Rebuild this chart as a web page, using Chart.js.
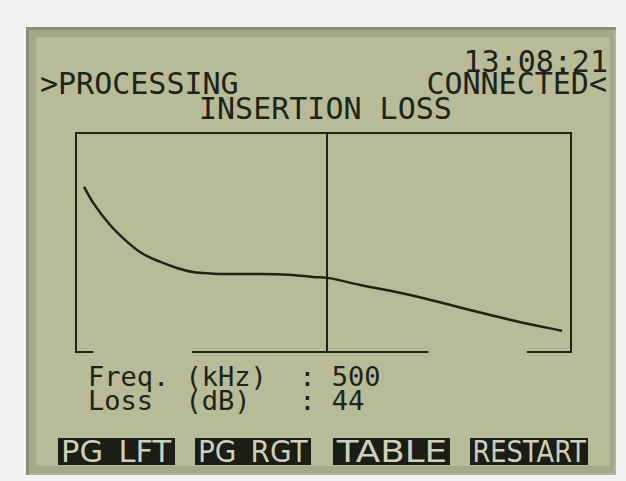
<!DOCTYPE html>
<html>
<head>
<meta charset="utf-8">
<script src="https://cdn.jsdelivr.net/npm/chart.js@4"></script>
<style>
  html, body { margin: 0; padding: 0; background: #f2f2f0; overflow: hidden; }
  #screen { position: relative; width: 626px; height: 481px; }
  .bezel {
    position: absolute; left: 26px; top: 27px; width: 590px; height: 448px;
    background: #a6a88b;
    box-shadow: inset 3px 3px 0 #8c8e74, inset -2px -2px 0 #b3b598;
  }
  .face {
    position: absolute; left: 35px; top: 36px; width: 575px; height: 430px;
    background: #b7bb97;
    box-shadow: inset 1px 1px 2px #9fa282;
  }
  .lcd {
    position: absolute; margin: 0; white-space: pre;
    font-family: "DejaVu Sans Mono", monospace; color: #20231a;
  }
  .big { font-size: 30px; line-height: 30px; }
  .small { font-size: 27px; line-height: 27px; }
  .key {
    position: absolute; top: 438px; height: 27px; background: #1b1d16;
    overflow: hidden; display: flex; align-items: center; justify-content: center;
  }
  .key span {
    display: inline-block; font-family: "DejaVu Sans", sans-serif;
    font-size: 30px; line-height: 27px; color: #cdd1b8; white-space: pre;
  }
  #wrap { position: absolute; left: 0; top: 0; width: 626px; height: 481px; }
</style>
</head>
<body>
<div id="screen">
  <div class="bezel"></div>
  <div class="face"></div>
  <div class="lcd big" id="clock" style="right:18px; top:47px;"></div>
  <div class="lcd big" id="status" style="left:40px; top:69px;"></div>
  <div class="lcd big" id="link" style="right:19px; top:69px;"></div>
  <div class="lcd big" id="title" style="left:199px; top:94px;"></div>
  <div class="lcd small" id="freqRow" style="left:88px; top:363px;"></div>
  <div class="lcd small" id="lossRow" style="left:88px; top:387px;"></div>
  <div id="keys"></div>
  <div id="wrap"><canvas id="plot"></canvas></div>
</div>
<script>
// sweep readings: frequency (kHz) and insertion loss (dB)
const freqKHz = [16, 34, 68, 102, 133, 167, 201, 233, 267, 301, 366, 432, 472, 500, 566, 626, 691, 759, 825, 890, 968];
const lossDb = [98, 88.7, 75.4, 65.4, 58.3, 53.6, 49.9, 47.5, 46.6, 46.3, 46.3, 45.7, 44.5, 44, 39.8, 36.4, 32.1, 26.9, 22.0, 17.4, 12.6];

const cursorFreq = 500;
const clockText = "13:08:21";
const statusText = ">PROCESSING";
const linkText = "CONNECTED<";
const titleText = "INSERTION LOSS";
const softKeys = ["PG_LFT", "PG_RGT", " TABLE ", "RESTART"];

const cursorLoss = lossDb[freqKHz.indexOf(cursorFreq)];

document.getElementById("clock").textContent = clockText;
document.getElementById("status").textContent = statusText;
document.getElementById("link").textContent = linkText;
document.getElementById("title").textContent = titleText;
document.getElementById("freqRow").textContent = "Freq. (kHz)  : " + cursorFreq;
document.getElementById("lossRow").textContent = "Loss  (dB)   : " + cursorLoss;

// soft key bar along the bottom
const keyBoxes = [[58, 117, 110], [195, 116, 110], [333, 117, 95], [470, 118, 113]];
const keysEl = document.getElementById("keys");
softKeys.forEach((label, i) => {
  const [x, w, tw] = keyBoxes[i];
  const box = document.createElement("div");
  box.className = "key";
  box.style.left = x + "px";
  box.style.width = w + "px";
  const span = document.createElement("span");
  span.textContent = label;
  box.appendChild(span);
  keysEl.appendChild(box);
  const trimmed = label.trim().length / label.length;
  span.style.transform = "scaleX(" + (tw / (span.offsetWidth * trimmed)).toFixed(3) + ")";
});

const ink = "#20231a";

// frame with a gapped bottom edge plus the cursor line
const lcdFrame = {
  id: "lcdFrame",
  afterDatasetsDraw(chart) {
    const { ctx, chartArea: a, scales } = chart;
    const w = a.right - a.left;
    ctx.save();
    ctx.strokeStyle = ink;
    ctx.lineWidth = 2;
    ctx.lineCap = "square";
    ctx.beginPath();
    ctx.moveTo(a.left, a.bottom);
    ctx.lineTo(a.left, a.top);
    ctx.lineTo(a.right, a.top);
    ctx.lineTo(a.right, a.bottom);
    [[0, 0.033], [0.236, 0.71], [0.913, 1]].forEach(([s, e]) => {
      ctx.moveTo(a.left + s * w, a.bottom);
      ctx.lineTo(a.left + e * w, a.bottom);
    });
    const cx = scales.x.getPixelForValue(cursorFreq);
    ctx.moveTo(cx, a.top);
    ctx.lineTo(cx, a.bottom);
    ctx.stroke();
    ctx.restore();
  }
};

new Chart(document.getElementById("plot"), {
  type: "line",
  data: {
    datasets: [{
      data: freqKHz.map((f, i) => ({ x: f, y: lossDb[i] })),
      borderColor: ink,
      borderWidth: 2.5,
      pointRadius: 0,
      cubicInterpolationMode: "monotone",
      fill: false
    }]
  },
  options: {
    responsive: true,
    maintainAspectRatio: false,
    animation: false,
    layout: { padding: { left: 76, top: 133, right: 55, bottom: 129 } },
    scales: {
      x: { type: "linear", min: 0, max: 986, display: false },
      y: { min: 0, max: 130, display: false }
    },
    plugins: { legend: { display: false }, tooltip: { enabled: false } }
  },
  plugins: [lcdFrame]
});
</script>
</body>
</html>
